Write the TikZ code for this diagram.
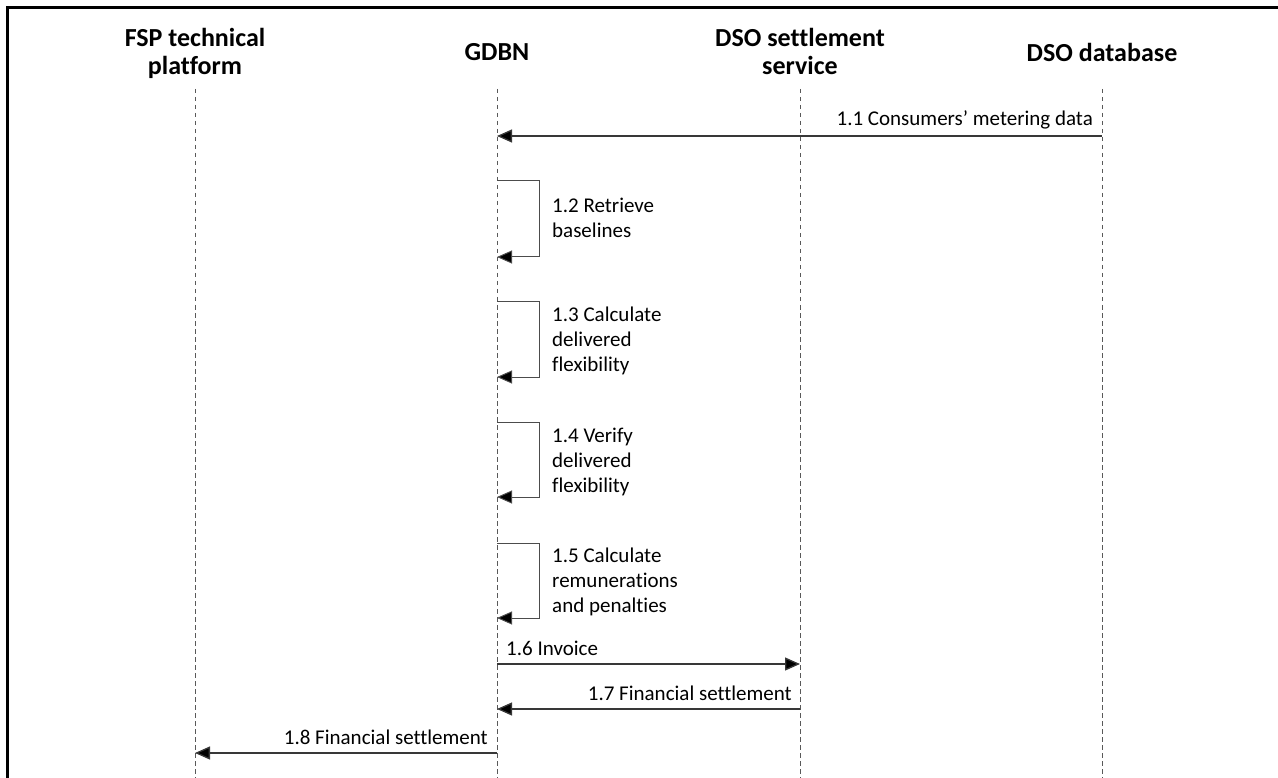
\documentclass[tikz,border=0pt]{standalone}
\usepackage{fontspec}
\setmainfont{Carlito}[Ligatures=NoCommon]
\usetikzlibrary{arrows.meta}
\begin{document}
\begin{tikzpicture}[x=1pt,y=-1pt,
  frame/.style={line width=3pt, draw=black},
  lifeline/.style={draw=black!65, line width=0.9pt, dash pattern=on 4.5pt off 3.5pt},
  msg/.style={draw=black!78, line width=1.3pt, -{Triangle[length=15pt,width=13pt,fill=black]}},
  selfmsg/.style={draw=black!70, line width=1pt, -{Triangle[length=15pt,width=13pt,fill=black]}},
  headtitle/.style={font=\fontsize{26}{28}\selectfont\bfseries, align=center, inner sep=0pt},
  msglabel/.style={font=\fontsize{21}{25}\selectfont, inner sep=0pt},
  looplabel/.style={font=\fontsize{21}{25}\selectfont, inner sep=0pt, align=left, anchor=base west},
]
\useasboundingbox (0,0) rectangle (1278,778);

% outer frame (runs past the right and bottom edges)
\draw[frame] (7,800) -- (7,8) -- (1300,8);

% participant headings (base anchor = baseline of the last line)
\node[headtitle, anchor=base] (fsp)    at (195,75)  {FSP technical\\platform};
\node[headtitle, anchor=base] (gdbn)   at (497,61)  {GDBN};
\node[headtitle, anchor=base] (dsoset) at (800,75)  {DSO settlement\\service};
\node[headtitle, anchor=base] (dsodb)  at (1102,62) {DSO database};

% lifeline ends
\coordinate (Lfsp) at (195,89);  \coordinate (Efsp) at (195,790);
\coordinate (Lg)   at (497,89);  \coordinate (Eg)   at (497,790);
\coordinate (Ls)   at (800,89);  \coordinate (Es)   at (800,790);
\coordinate (Ldb)  at (1102,89); \coordinate (Edb)  at (1102,790);

\draw[lifeline] (Lfsp) -- (Efsp);
\draw[lifeline] (Lg) -- (Eg);
\draw[lifeline] (Ls) -- (Es);
\draw[lifeline] (Ldb) -- (Edb);

% 1.1
\draw[msg] (Ldb |- 0,136) -- (Lg |- 0,136);
\node[msglabel, anchor=base east] (t11) at (1093,126) {1.1 Consumers’ metering data};

% self calls on GDBN
\draw[selfmsg] (Lg |- 0,181) -| (539,257) -- (Lg |- 0,257);
\node[looplabel] (t12) at (552,238) {1.2 Retrieve\\baselines};

\draw[selfmsg] (Lg |- 0,302) -| (539,377) -- (Lg |- 0,377);
\node[looplabel] (t13) at (552,371) {1.3 Calculate\\delivered\\flexibility};

\draw[selfmsg] (Lg |- 0,422) -| (539,497) -- (Lg |- 0,497);
\node[looplabel] (t14) at (552,492) {1.4 Verify\\delivered\\flexibility};

\draw[selfmsg] (Lg |- 0,543) -| (539,618) -- (Lg |- 0,618);
\node[looplabel] (t15) at (552,612) {1.5 Calculate\\remunerations\\and penalties};

% 1.6
\draw[msg] (Lg |- 0,664) -- (Ls |- 0,664);
\node[msglabel, anchor=base west] (t16) at (506,655) {1.6 Invoice};

% 1.7
\draw[msg] (Ls |- 0,709) -- (Lg |- 0,709);
\node[msglabel, anchor=base east] (t17) at (792,700) {1.7 Financial settlement};

% 1.8
\draw[msg] (Lg |- 0,753) -- (Lfsp |- 0,753);
\node[msglabel, anchor=base east] (t18) at (488,744) {1.8 Financial settlement};
\end{tikzpicture}
\end{document}
